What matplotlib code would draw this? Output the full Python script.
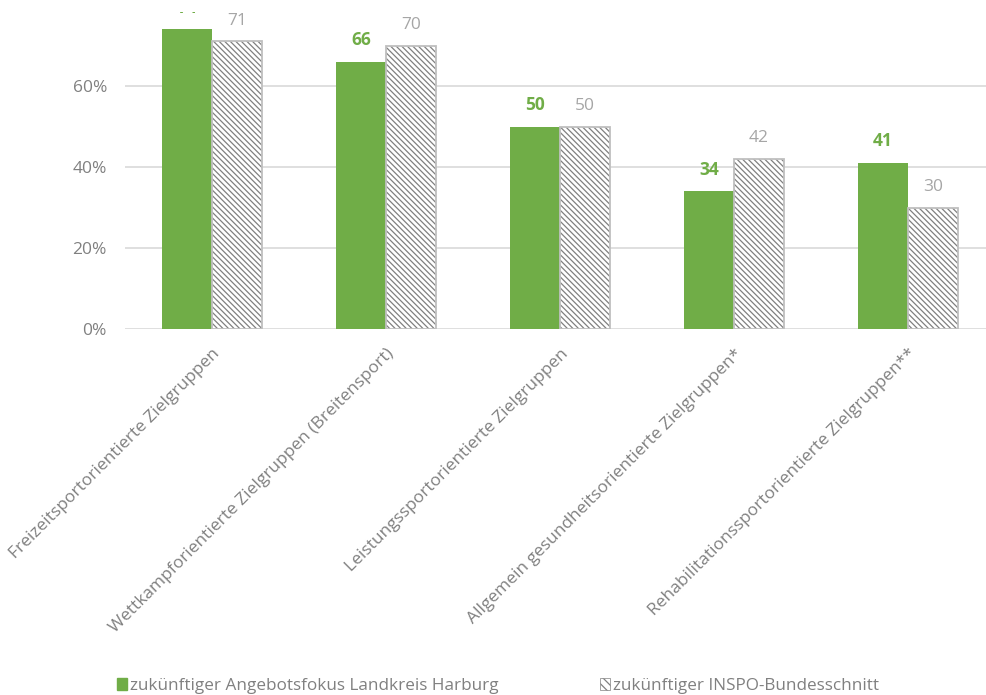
import matplotlib
matplotlib.use("Agg")
import matplotlib.pyplot as plt
import numpy as np
from matplotlib.patches import Patch

plt.rcParams['font.family'] = ['Open Sans', 'DejaVu Sans']

categories = [
    "Freizeitsportorientierte Zielgruppen",
    "Wettkampforientierte Zielgruppen (Breitensport)",
    "Leistungssportorientierte Zielgruppen",
    "Allgemein gesundheitsorientierte Zielgruppen*",
    "Rehabilitationssportorientierte Zielgruppen**",
]
landkreis = [74, 66, 50, 34, 41]
inspo = [71, 70, 50, 42, 30]
series_names = ["zukünftiger Angebotsfokus Landkreis Harburg", "zukünftiger INSPO-Bundesschnitt"]
yticks = [0, 20, 40, 60]
ytick_labels = ["0%", "20%", "40%", "60%"]

green = "#70AD47"
grey_txt = "#A6A6A6"
axis_txt = "#808080"

W, H = 986, 695
fig = plt.figure(figsize=(W/100, H/100), dpi=100)
px_per = 4.05
top_px = 12
left = 125 / W
width = 870 / W
bottom = 1 - 329 / H
height = (329 - top_px) / H
ax = fig.add_axes([left, bottom, width, height])

x = np.arange(len(categories))
bw = 50 / 174
hatch = "\\" * 6

plt.rcParams['hatch.linewidth'] = 0.9
ax.bar(x - bw/2, landkreis, width=bw, color=green, zorder=3)
ax.bar(x + bw/2, inspo, width=bw, color="white", edgecolor="#808080", hatch=hatch, linewidth=0, zorder=3)
ax.bar(x + bw/2, inspo, width=bw, fill=False, edgecolor="#BFBFBF", linewidth=1.3, zorder=4)

for xi, v in zip(x, landkreis):
    ax.annotate(f"{v}", (xi - bw/2, v), xytext=(0, 9), textcoords="offset points",
                ha="center", va="bottom", color=green, fontsize=12.5, fontweight="bold",
                clip_on=True)
for xi, v in zip(x, inspo):
    ax.annotate(f"{v}", (xi + bw/2, v), xytext=(0, 9), textcoords="offset points",
                ha="center", va="bottom", color=grey_txt, fontsize=12.5, clip_on=True)

ax.set_xlim(-0.5, len(categories) - 0.5)
ax.set_ylim(0, (329 - top_px) / px_per)
ax.set_yticks(yticks)
ax.set_yticklabels(ytick_labels, color=axis_txt, fontsize=12.5)
ax.tick_params(axis="y", length=0, pad=13)
ax.yaxis.grid(True, color="#D9D9D9", linewidth=1.2, zorder=0)
ax.set_axisbelow(True)
for s in ax.spines.values():
    s.set_visible(False)

ax.set_xticks(x)
ax.set_xticklabels(categories, rotation=45, ha="right", rotation_mode="anchor",
                   color=axis_txt, fontsize=12.5)
ax.tick_params(axis="x", length=0, pad=12)

handles = [Patch(facecolor=green, edgecolor=green),
           Patch(facecolor="white", edgecolor="#808080", hatch="\\" * 4, linewidth=0.5)]
leg_x = [116 / W, 599 / W]
for h, name, lx in zip(handles, series_names, leg_x):
    leg = fig.legend([h], [name], loc="lower left", bbox_to_anchor=(lx, 0.0),
                     frameon=False, handlelength=0.6, handleheight=0.7,
                     handletextpad=0.15, borderaxespad=0, borderpad=0.05,
                     prop={'size': 12.3})
    for t in leg.get_texts():
        t.set_color(axis_txt)

fig.savefig("out.png", dpi=100)
